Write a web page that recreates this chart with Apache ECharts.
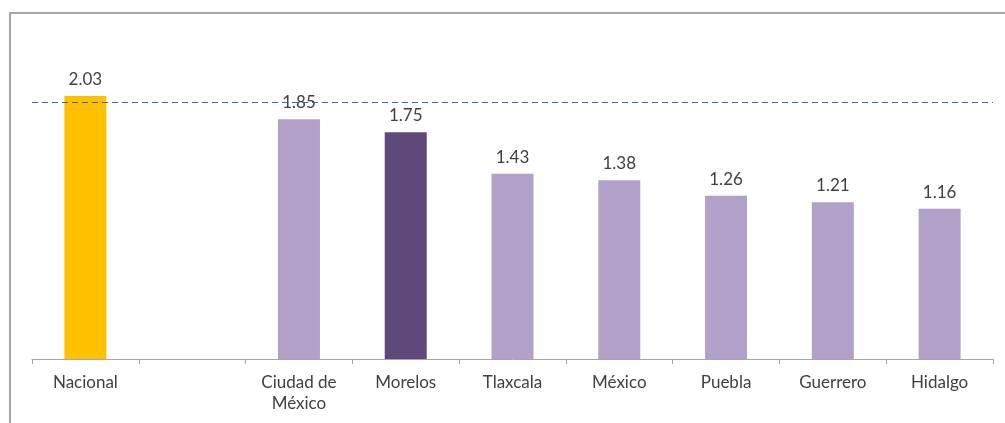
<!DOCTYPE html>
<html><head><meta charset="utf-8">
<script src="https://cdn.jsdelivr.net/npm/echarts@6/dist/echarts.min.js"></script>
<style>
html,body{margin:0;padding:0;background:#fff;overflow:hidden;}
#frame{position:absolute;left:9px;top:12px;width:1100px;height:500px;border:2px solid #a6a6a6;box-sizing:border-box;}
#chart{position:absolute;left:0;top:0;width:1005px;height:423px;}
</style></head>
<body>
<div id="frame"></div>
<div id="chart"></div>
<script>
const categories = ['Nacional', '', 'Ciudad de\nMéxico', 'Morelos', 'Tlaxcala', 'México', 'Puebla', 'Guerrero', 'Hidalgo'];
const values = [2.03, null, 1.85, 1.75, 1.43, 1.38, 1.26, 1.21, 1.16];
const referenceLine = 1.98;
const highlight = { 'Nacional': '#FFC000', 'Morelos': '#5F497A' };
const baseColor = '#B1A0C7';

const chart = echarts.init(document.getElementById('chart'));
chart.setOption({
  animation: false,
  grid: { left: 32, right: 12, top: 35, bottom: 64 },
  xAxis: {
    type: 'category',
    data: categories,
    axisLine: { lineStyle: { color: '#a6a6a6', width: 1 } },
    axisTick: { show: true, length: 5, lineStyle: { color: '#a6a6a6' } },
    axisLabel: { color: '#404040', fontFamily: 'Lato, "Open Sans", sans-serif', fontSize: 17, margin: 13, lineHeight: 21, interval: 0 }
  },
  yAxis: {
    type: 'value', min: 0, max: 2.5, show: false
  },
  series: [{
    type: 'bar',
    barWidth: 42,
    data: values.map((v, i) => ({ value: v, itemStyle: { color: highlight[categories[i]] || baseColor } })),
    label: {
      show: true, position: 'top', distance: 8, color: '#404040',
      fontFamily: 'Lato, "Open Sans", sans-serif', fontSize: 17,
      formatter: p => p.value == null ? '' : p.value.toFixed(2)
    },
    markLine: {
      silent: true, symbol: 'none', label: { show: false },
      lineStyle: { type: [6, 4], color: '#3f6a96', width: 1.2 },
      data: [{ yAxis: referenceLine }]
    }
  }]
});
</script>
</body></html>
